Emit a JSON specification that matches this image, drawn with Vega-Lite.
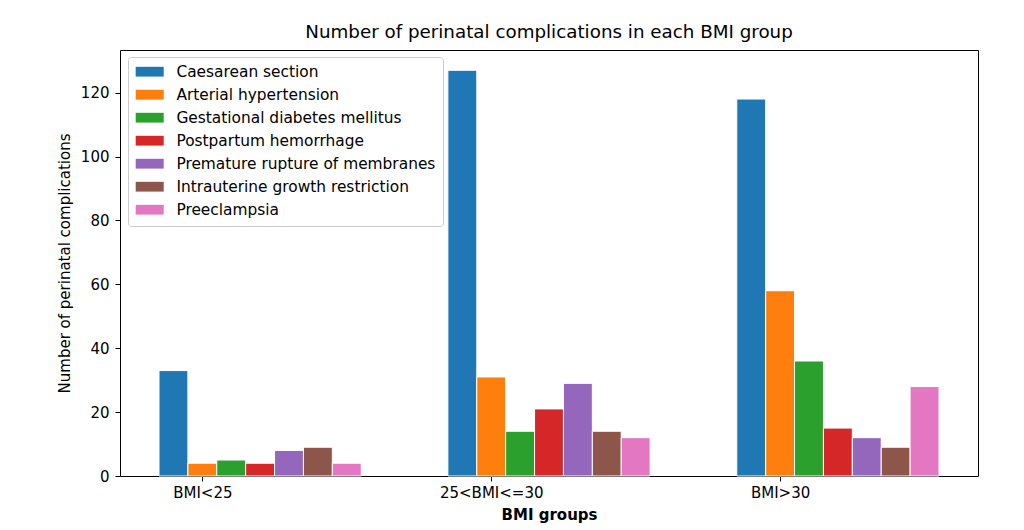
{
  "$schema": "https://vega.github.io/schema/vega-lite/v6.json",
  "width": 858,
  "height": 426,
  "autosize": {"type": "none"},
  "padding": {"left": 120, "top": 50, "right": 46, "bottom": 54},
  "background": "white",
  "title": {
    "text": "Number of perinatal complications in each BMI group",
    "fontSize": 18.3,
    "font": "DejaVu Sans",
    "fontWeight": "normal",
    "color": "black",
    "anchor": "middle",
    "frame": "group",
    "offset": 8
  },
  "config": {
    "view": {"stroke": "black", "strokeWidth": 1},
    "font": "DejaVu Sans"
  },
  "data": {
    "values": [
      {"group": "BMI<25", "complication": "Caesarean section", "count": 33},
      {"group": "BMI<25", "complication": "Arterial hypertension", "count": 4},
      {"group": "BMI<25", "complication": "Gestational diabetes mellitus", "count": 5},
      {"group": "BMI<25", "complication": "Postpartum hemorrhage", "count": 4},
      {"group": "BMI<25", "complication": "Premature rupture of membranes", "count": 8},
      {"group": "BMI<25", "complication": "Intrauterine growth restriction", "count": 9},
      {"group": "BMI<25", "complication": "Preeclampsia", "count": 4},
      {"group": "25<BMI<=30", "complication": "Caesarean section", "count": 127},
      {"group": "25<BMI<=30", "complication": "Arterial hypertension", "count": 31},
      {"group": "25<BMI<=30", "complication": "Gestational diabetes mellitus", "count": 14},
      {"group": "25<BMI<=30", "complication": "Postpartum hemorrhage", "count": 21},
      {"group": "25<BMI<=30", "complication": "Premature rupture of membranes", "count": 29},
      {"group": "25<BMI<=30", "complication": "Intrauterine growth restriction", "count": 14},
      {"group": "25<BMI<=30", "complication": "Preeclampsia", "count": 12},
      {"group": "BMI>30", "complication": "Caesarean section", "count": 118},
      {"group": "BMI>30", "complication": "Arterial hypertension", "count": 58},
      {"group": "BMI>30", "complication": "Gestational diabetes mellitus", "count": 36},
      {"group": "BMI>30", "complication": "Postpartum hemorrhage", "count": 15},
      {"group": "BMI>30", "complication": "Premature rupture of membranes", "count": 12},
      {"group": "BMI>30", "complication": "Intrauterine growth restriction", "count": 9},
      {"group": "BMI>30", "complication": "Preeclampsia", "count": 28}
    ]
  },
  "mark": {"type": "bar", "stroke": "white", "strokeWidth": 1},
  "encoding": {
    "x": {
      "field": "group",
      "type": "nominal",
      "sort": ["BMI<25", "25<BMI<=30", "BMI>30"],
      "scale": {"paddingInner": 0.3, "paddingOuter": 0.135},
      "axis": {
        "title": "BMI groups",
        "labelAngle": 0,
        "tickOffset": -57.8,
        "titleFontWeight": "bold",
        "titleFontSize": 15,
        "labelFontSize": 15,
        "labelColor": "black",
        "titleColor": "black",
        "tickColor": "black",
        "tickSize": 5,
        "domain": false,
        "labelPadding": 4,
        "titlePadding": 7
      }
    },
    "xOffset": {
      "field": "complication",
      "type": "nominal",
      "sort": ["Caesarean section", "Arterial hypertension", "Gestational diabetes mellitus", "Postpartum hemorrhage", "Premature rupture of membranes", "Intrauterine growth restriction", "Preeclampsia"],
      "scale": {"paddingInner": 0, "paddingOuter": 0}
    },
    "y": {
      "field": "count",
      "type": "quantitative",
      "scale": {"domain": [0, 133.35], "nice": false},
      "axis": {
        "title": "Number of perinatal complications",
        "values": [0, 20, 40, 60, 80, 100, 120],
        "grid": false,
        "domain": false,
        "labelFontSize": 15,
        "titleFontSize": 15,
        "titleFontWeight": "normal",
        "labelColor": "black",
        "titleColor": "black",
        "tickColor": "black",
        "tickSize": 5,
        "labelPadding": 6,
        "titlePadding": 8
      }
    },
    "color": {
      "field": "complication",
      "type": "nominal",
      "scale": {
        "domain": ["Caesarean section", "Arterial hypertension", "Gestational diabetes mellitus", "Postpartum hemorrhage", "Premature rupture of membranes", "Intrauterine growth restriction", "Preeclampsia"],
        "range": ["#1f77b4", "#ff7f0e", "#2ca02c", "#d62728", "#9467bd", "#8c564b", "#e377c2"]
      },
      "legend": {
        "title": null,
        "orient": "none",
        "legendX": 8,
        "legendY": 7,
        "symbolType": "M-1,-0.7H3V0.7H-1Z",
        "symbolSize": 196,
        "symbolStrokeWidth": 0,
        "labelFontSize": 15.4,
        "labelColor": "black",
        "labelOffset": 26,
        "labelLimit": 500,
        "rowPadding": 6,
        "padding": 7,
        "fillColor": "white",
        "strokeColor": "#cccccc",
        "cornerRadius": 3
      }
    }
  }
}
